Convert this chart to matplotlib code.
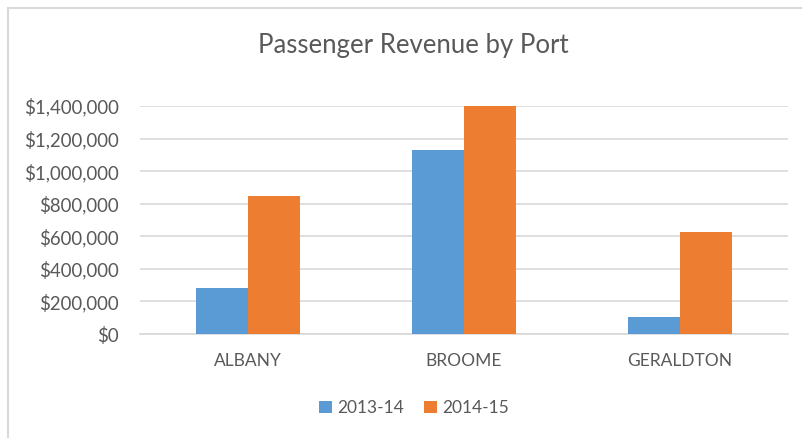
import matplotlib
matplotlib.use('Agg')
import matplotlib.pyplot as plt
from matplotlib.patches import Rectangle
from matplotlib.ticker import FuncFormatter
import numpy as np

# data
ports = ['ALBANY', 'BROOME', 'GERALDTON']
rev_1314 = [285000, 1130000, 104000]
rev_1415 = [845000, 1407000, 624000]
series = ['2013-14', '2014-15']
colors = ['#5B9BD5', '#ED7D31']

plt.rcParams['font.family'] = ['Lato', 'DejaVu Sans']
txt = '#595959'

W, H = 803, 438
fig = plt.figure(figsize=(W/100, H/100), dpi=100)
fig.patch.set_facecolor('white')

# chart frame (Excel style)
fig.patches.append(Rectangle((8/W, -0.1), 1.2, (H-8)/H+0.1, transform=fig.transFigure,
                             fill=False, edgecolor='#D9D9D9', linewidth=1.5))

ax = fig.add_axes([140/W, 1-334/H, (788-140)/W, (334-106)/H])

x = np.arange(len(ports))
w = 0.24
ax.bar(x - w/2, rev_1314, w, color=colors[0], label=series[0], zorder=3)
ax.bar(x + w/2, rev_1415, w, color=colors[1], label=series[1], zorder=3)

ax.set_xlim(-0.5, 2.5)
ax.set_ylim(0, 1400000)
ax.set_yticks(np.arange(0, 1400001, 200000))
ax.yaxis.set_major_formatter(FuncFormatter(lambda v, p: '${:,.0f}'.format(v)))
ax.set_xticks(x)
ax.set_xticklabels(ports)
ax.tick_params(axis='both', length=0, labelsize=12.5, colors=txt)
ax.tick_params(axis='x', pad=14)
ax.tick_params(axis='y', pad=15, labelsize=13.4)
ax.grid(axis='y', color='#D9D9D9', linewidth=1.2, zorder=0)
for s in ['top', 'right', 'left']:
    ax.spines[s].set_visible(False)
ax.spines['bottom'].set_color('#D9D9D9')
ax.spines['bottom'].set_linewidth(1.2)

fig.text(413/W, 1-45/H, 'Passenger Revenue by Port', ha='center', va='center',
         fontsize=18.5, color=txt)

ax.legend(loc='center', bbox_to_anchor=(414/W, 1-408/H), bbox_transform=fig.transFigure,
          ncol=2, frameon=False, fontsize=12.5, labelcolor=txt, handlelength=0.7,
          handleheight=0.7, handletextpad=0.3, columnspacing=1.2)

fig.savefig('out.png', dpi=100)
